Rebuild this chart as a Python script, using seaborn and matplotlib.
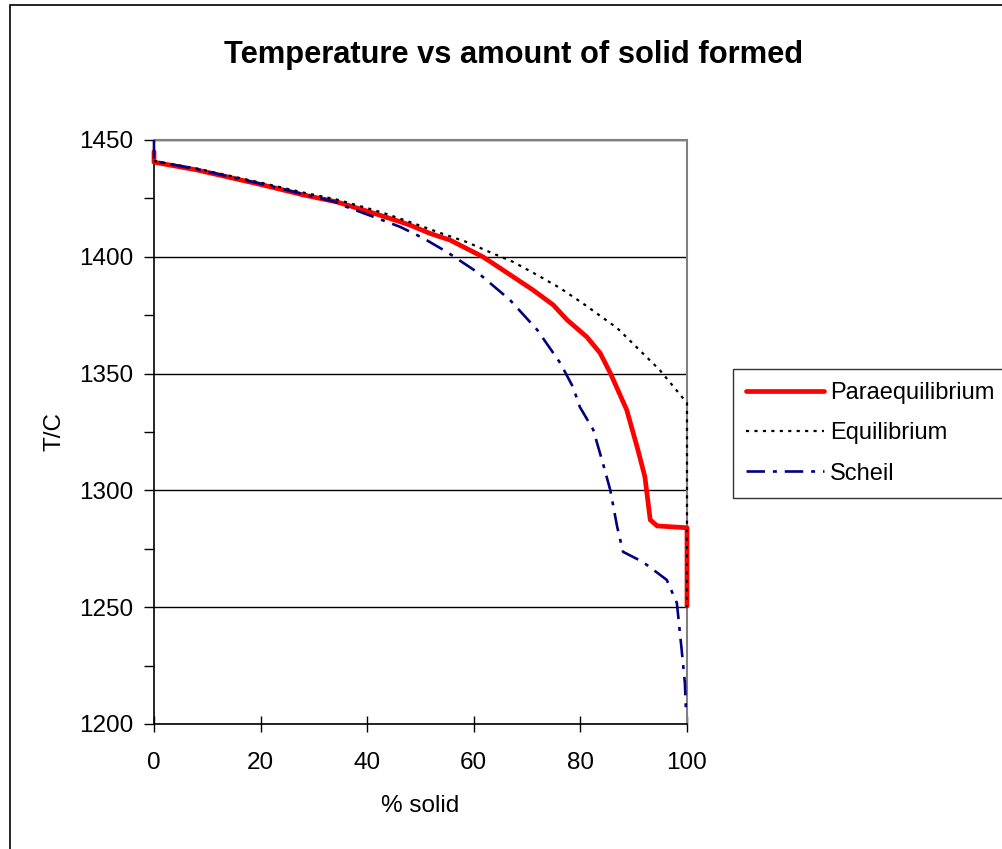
import numpy as np
import pandas as pd
import matplotlib
matplotlib.use("Agg")
import matplotlib.pyplot as plt
import seaborn as sns
from matplotlib.patches import Rectangle
from matplotlib.ticker import MultipleLocator

# values (% solid, temperature in C)
para_x = [0, 0, 8, 20.5, 28, 34.3, 40.5, 46.2, 48, 51.8, 55.5, 61.7, 64.9, 71.1, 74.9,
          77.5, 81.2, 83.7, 85.6, 88.7, 90.8, 92.1, 93.1, 94.4, 100, 100]
para_y = [1445, 1440.5, 1437.2, 1430.7, 1426.5, 1423.5, 1419.2, 1415, 1413.6, 1410, 1407.2,
          1400, 1395.2, 1385.8, 1379.4, 1373, 1365.7, 1358.8, 1350.3, 1334.4, 1317.3,
          1305.8, 1287.4, 1284.8, 1284, 1250.5]

equil_x = [0, 8, 20.5, 28, 34.3, 40.5, 43, 47.5, 53.7, 58.7, 63, 67.4, 71.9, 76.2,
           80.5, 86.9, 94.9, 100, 100]
equil_y = [1441, 1437.8, 1431.5, 1427.5, 1424.5, 1420.5, 1418.8, 1415.3, 1410.2,
           1406.3, 1402, 1397.8, 1392.2, 1386.6, 1380, 1369.5, 1351.5, 1337.4, 1250]

scheil_x = [0, 0, 8, 20.5, 28, 34, 36.2, 41.8, 46.2, 50.5, 55, 60.6, 66.8, 71.9, 76.2,
            78.6, 79.9, 82.4, 84.2, 85.6, 86.9, 88, 91.7, 96.2, 98.1, 99, 99.6, 99.8]
scheil_y = [1450, 1441, 1437.5, 1431, 1426.8, 1423.5, 1421.3, 1416.6, 1412.8, 1408,
            1402, 1393.5, 1381.5, 1368.7, 1354.6, 1344.3, 1335.7, 1326, 1311.8, 1300.2,
            1284.4, 1273.7, 1269.4, 1261.7, 1251.8, 1231.7, 1217.6, 1206]

series_names = ["Paraequilibrium", "Equilibrium", "Scheil"]

sns.set_theme(style="white")
plt.rcParams["font.family"] = ["Liberation Sans", "DejaVu Sans"]
plt.rcParams["text.color"] = "black"
plt.rcParams["axes.labelcolor"] = "black"
plt.rcParams["xtick.color"] = "black"
plt.rcParams["ytick.color"] = "black"

fig = plt.figure(figsize=(10.02, 8.49), dpi=100)
ax = fig.add_axes([154 / 1002, 1 - 724 / 849, 533 / 1002, 584 / 849])

styles = [
    dict(color="#ff0000", lw=3.4, linestyle="-"),
    dict(color="black", lw=1.6, linestyle=(0, (1.4, 2.4))),
    dict(color="#000080", lw=1.9, linestyle=(0, (7, 3, 1.5, 3))),
]
for name, xs, ys, st in zip(series_names,
                            [para_x, equil_x, scheil_x],
                            [para_y, equil_y, scheil_y], styles):
    df = pd.DataFrame({"solid": xs, "T": ys})
    sns.lineplot(data=df, x="solid", y="T", sort=False, estimator=None,
                 ax=ax, label=name, clip_on=False, zorder=3, **st)

ax.set_xlim(0, 100)
ax.set_ylim(1200, 1450)
ax.xaxis.set_major_locator(MultipleLocator(20))
ax.yaxis.set_major_locator(MultipleLocator(50))
ax.yaxis.set_minor_locator(MultipleLocator(25))
ax.tick_params(axis="x", which="both", direction="inout", length=12, width=1,
               labelsize=17.5, pad=14, bottom=True)
ax.tick_params(axis="y", which="both", direction="out", length=7, width=1,
               labelsize=17.5, pad=8, left=True)
ax.grid(axis="y", which="major", color="black", lw=1)
ax.set_axisbelow(True)

for side in ["left", "bottom"]:
    ax.spines[side].set_color("black")
    ax.spines[side].set_linewidth(1.2)
for side in ["top", "right"]:
    ax.spines[side].set_color("#808080")
    ax.spines[side].set_linewidth(1.5)

ax.set_xlabel("% solid", fontsize=17.5, labelpad=15)
ax.set_ylabel("T/C", fontsize=17.5, labelpad=10)
fig.text(0.513, 1 - 55 / 849, "Temperature vs amount of solid formed",
         ha="center", va="center", fontsize=22.2, fontweight="bold")

leg = ax.legend(loc="upper left", bbox_to_anchor=(1.086, 0.608), fontsize=17,
                frameon=True, fancybox=False, handlelength=3.3, handletextpad=0.25,
                labelspacing=0.78, borderpad=0.55, borderaxespad=0)
leg.get_frame().set_edgecolor("black")
leg.get_frame().set_linewidth(1.0)

# chart-area frame (runs off the right and bottom edges)
fig.patches.append(Rectangle((10 / 1002, -0.2), 1.5, 1.2 - 5 / 849,
                             transform=fig.transFigure, fill=False,
                             edgecolor="black", lw=1.2))

fig.savefig("out.png", dpi=100)
